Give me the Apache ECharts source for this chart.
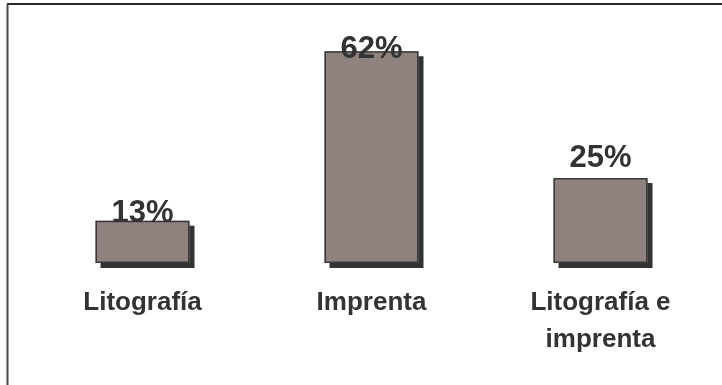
<!DOCTYPE html>
<html>
<head>
<meta charset="utf-8">
<script src="https://cdn.jsdelivr.net/npm/echarts@6/dist/echarts.min.js"></script>
<style>html,body{margin:0;padding:0;background:#fff;}#c{width:722px;height:385px;}</style>
</head>
<body>
<div id="c"></div>
<script>
const categories = ['Litografía', 'Imprenta', 'Litografía e\nimprenta'];
const values = [12.4, 62.3, 25.0];
const valueLabels = ['13%', '62%', '25%'];
const labelDistances = [-8.5, -13.5, 4.5];

const chart = echarts.init(document.getElementById('c'), null, {renderer: 'canvas'});
chart.setOption({
  animation: false,
  backgroundColor: '#ffffff',
  grid: {left: 28, right: 7, top: 25, bottom: 122, containLabel: false},
  xAxis: {
    type: 'category',
    data: categories,
    axisLine: {show: false},
    axisTick: {show: false},
    axisLabel: {
      interval: 0,
      margin: 21,
      color: '#333333',
      fontFamily: 'Liberation Sans, Arial, sans-serif',
      fontWeight: 'bold',
      fontSize: 26,
      lineHeight: 37
    }
  },
  yAxis: {
    type: 'value', min: 0, max: 70,
    show: false,
    splitLine: {show: false}
  },
  graphic: [
    {type: 'line', shape: {x1: 7, y1: 4, x2: 722, y2: 4}, style: {stroke: '#2a2a2a', lineWidth: 2}, silent: true},
    {type: 'line', shape: {x1: 7.5, y1: 4, x2: 7.5, y2: 385}, style: {stroke: '#4a4a4a', lineWidth: 2}, silent: true}
  ],
  series: [{
    type: 'bar',
    barWidth: 94,
    barGap: '-100%',
    z: 2,
    data: values,
    itemStyle: {
      color: '#8f827e',
      borderWidth: 0,
      shadowColor: '#333333',
      shadowBlur: 0,
      shadowOffsetX: 5,
      shadowOffsetY: 5
    }
  }, {
    type: 'bar',
    barWidth: 94,
    barGap: '-100%',
    z: 3,
    data: values.map((v, i) => ({
      value: v,
      label: {distance: labelDistances[i]}
    })),
    itemStyle: {
      color: 'rgba(0,0,0,0)',
      borderColor: '#3a3a3a',
      borderWidth: 1.5
    },
    label: {
      show: true,
      position: 'top',
      formatter: p => valueLabels[p.dataIndex],
      color: '#333333',
      fontFamily: 'Liberation Sans, Arial, sans-serif',
      fontWeight: 'bold',
      fontSize: 31
    }
  }]
});
</script>
</body>
</html>
